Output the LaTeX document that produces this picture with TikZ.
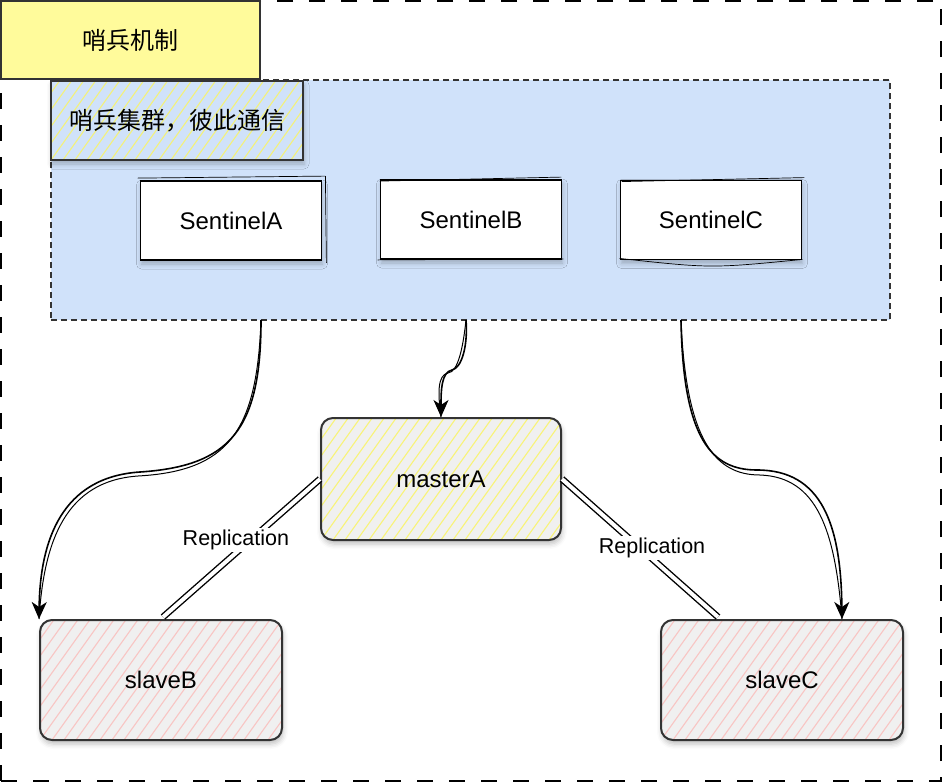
\documentclass[tikz,border=0pt]{standalone}
\usepackage{fontspec}
\setmainfont{Liberation Sans}
\newfontfamily\cjk{Noto Sans CJK SC}
\usetikzlibrary{shadows.blur, arrows.meta, calc}

\definecolor{grpblue}{RGB}{208,226,250}
\definecolor{titleyel}{RGB}{255,251,155}
\definecolor{edgegray}{RGB}{51,51,51}
\definecolor{hatchyel}{RGB}{250,244,100}
\definecolor{hatchpink}{RGB}{250,190,188}
\definecolor{boxgray}{RGB}{240,240,240}

\tikzset{
  nodefont/.style={font=\fontsize{24}{28}\selectfont},
  lblfont/.style={font=\fontsize{21.5}{25}\selectfont},
  hatch/.style={path picture={
      \foreach \k in {-30,...,30}{
        \draw[#1, line width=1.1pt, opacity=0.85]
          ($(path picture bounding box.south west)+(\k*12,0)$) -- ++(200,-280);
      }}},
  shd/.style={blur shadow={shadow xshift=1pt, shadow yshift=-4pt,
      shadow blur radius=5pt, shadow opacity=25}},
  framebox/.style={draw=black, line width=2pt, dash pattern=on 16pt off 16pt},
  grpbox/.style={draw=edgegray, fill=grpblue, line width=1.3pt,
      dash pattern=on 6pt off 4pt},
  titlebox/.style={draw=edgegray, fill=titleyel, line width=1.5pt, nodefont},
  labelbox/.style={draw=edgegray, fill=grpblue, line width=2pt, hatch=hatchyel,
      nodefont, shd},
  sentbox/.style={draw=black, fill=white, line width=1.8pt, nodefont, shd,
      minimum width=181pt, minimum height=79pt},
  masterbox/.style={draw=edgegray, fill=boxgray, line width=2pt, rounded corners=12pt,
      hatch=hatchyel, nodefont, shd, minimum width=240pt, minimum height=122pt},
  slavebox/.style={draw=edgegray, fill=boxgray, line width=2pt, rounded corners=12pt,
      hatch=hatchpink, nodefont, shd, minimum width=242pt, minimum height=120pt},
  sk/.style={draw=black, line width=0.7pt},
  conn/.style={draw=black, line width=1.6pt,
      -{Stealth[length=17pt, width=15pt, inset=5pt]}},
  conn2/.style={draw=black, line width=1pt},
  repl/.style={draw=black, line width=1.4pt, double=white, double distance=4pt},
  rlabel/.style={fill=white, inner sep=2pt, lblfont, text=black},
}

\begin{document}
\begin{tikzpicture}[x=1pt, y=-1pt]
\useasboundingbox (0,0) rectangle (942,782);

% outer frame
\node[framebox, minimum width=940pt, minimum height=780pt, inner sep=0pt] (frame) at (471,391) {};

% sentinel group
\node[grpbox, minimum width=839pt, minimum height=240pt, inner sep=0pt] (grp) at (470.5,200) {};

% title
\node[titlebox, minimum width=259pt, minimum height=78pt, inner sep=0pt] (title) at (130.5,40) {\cjk 哨兵机制};

% group label
\node[labelbox, minimum width=252pt, minimum height=79pt, inner sep=0pt] (glabel) at (177,120.5) {\cjk 哨兵集群，彼此通信};

% sentinels
\node[sentbox] (sA) at (231,220.5) {SentinelA};
\node[sentbox] (sB) at (471,219.5) {SentinelB};
\node[sentbox] (sC) at (711,220) {SentinelC};
\draw[sk] ($(sA.north west)+(-2,-2)$) -- ($(sA.north east)+(3,-4)$);
\draw[sk] ($(sA.north east)+(3,-4)$) -- ($(sA.south east)+(4,2)$);
\draw[sk] ($(sB.north west)+(0,2)$) -- ($(sB.north east)+(-1,-2)$);
\draw[sk] ($(sB.south west)+(-2,0)$) -- ($(sB.south east)+(1,-1)$);
\draw[sk] ($(sC.north west)+(2,2)$) -- ($(sC.north east)+(2,-2)$);
\draw[sk] ($(sC.south west)+(0,-2)$) .. controls ($(sC.south)+(0,8)$) .. ($(sC.south east)+(0,-1)$);

% master and slaves
\node[masterbox] (masterA) at (441,479) {masterA};
\node[slavebox] (slaveB) at (161,680) {slaveB};
\node[slavebox] (slaveC) at (782,680) {slaveC};

% connector start points on the group border
\coordinate (gA) at (261,320);
\coordinate (gB) at (466,320);
\coordinate (gC) at (681,320);
\coordinate (endC) at ($(slaveC.north east)+(-62,0)$);

% curved arrows
\draw[conn2] (gA) .. controls (257,432) and (228,471) .. (138,476)
   .. controls (66,481) and (44,540) .. (slaveB.north west);
\draw[conn] (gA) .. controls (261,430) and (230,466) .. (140,472)
   .. controls (62,477) and (40,540) .. (slaveB.north west);

\draw[conn2] (gB) .. controls (463,348) and (458,372) .. (448,373)
   .. controls (437,375) and (438,395) .. (masterA.north);
\draw[conn] (gB) .. controls (468,345) and (462,368) .. (452,370)
   .. controls (441,372) and (441,392) .. (masterA.north);

\draw[conn2] (gC) .. controls (686,442) and (716,475) .. (760,475)
   .. controls (817,477) and (835,530) .. (endC);
\draw[conn] (gC) .. controls (683,440) and (712,470) .. (757,470)
   .. controls (822,470) and (841,525) .. (endC);

% replication links
\coordinate (rB) at ($(slaveB.north)+(2,-2)$);
\coordinate (rC) at ($(slaveC.north)+(-64,-2)$);
\draw[repl] (masterA.west) -- node[rlabel, pos=0.44, xshift=-15pt] (lB) {Replication} (rB);
\draw[repl] (masterA.east) -- node[rlabel, pos=0.5, xshift=12pt] (lC) {Replication} (rC);

\end{tikzpicture}
\end{document}
